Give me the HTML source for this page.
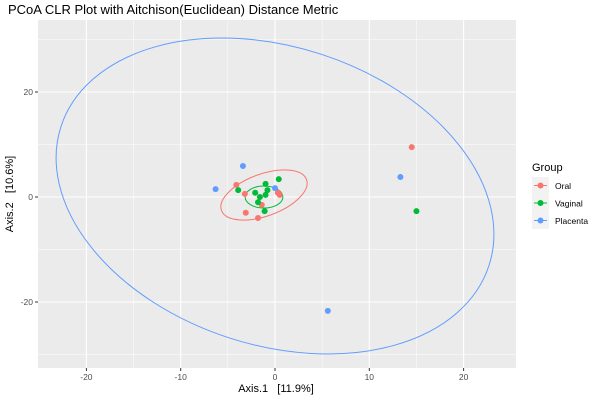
<!DOCTYPE html>
<html><head><meta charset="utf-8"><style>
body{margin:0;background:#fff;font-family:"Liberation Sans",sans-serif}
</style></head><body>
<svg id="chart" width="600" height="400" xmlns="http://www.w3.org/2000/svg">
<rect width="600" height="400" fill="#fff"/>
<text x="8" y="14" font-size="13" fill="#000">PCoA CLR Plot with Aitchison(Euclidean) Distance Metric</text>
<rect x="38" y="20" width="478" height="348" fill="#ebebeb"/>
<g id="grid"></g>
<g id="ell"></g>
<g id="pts"></g>
<g id="axes"></g>
<text x="276" y="392" font-size="11" text-anchor="middle">Axis.1&#160;&#160;&#160;[11.9%]</text>
<text transform="translate(13,194) rotate(-90)" font-size="11" text-anchor="middle">Axis.2&#160;&#160;&#160;[10.6%]</text>
<g>
<text x="532" y="171" font-size="11">Group</text>
<rect x="532" y="177" width="17" height="52" fill="#f2f2f2"/>
<g><line x1="534" x2="547" y1="185.5" y2="185.5" stroke="#F8766D"/><circle cx="540.5" cy="185.5" r="3" fill="#F8766D"/><text x="555" y="189" font-size="8.5">Oral</text></g>
<g><line x1="534" x2="547" y1="203" y2="203" stroke="#00BA38"/><circle cx="540.5" cy="203" r="3" fill="#00BA38"/><text x="555" y="206.5" font-size="8.5">Vaginal</text></g>
<g><line x1="534" x2="547" y1="220.5" y2="220.5" stroke="#619CFF"/><circle cx="540.5" cy="220.5" r="3" fill="#619CFF"/><text x="555" y="224" font-size="8.5">Placenta</text></g>
</g>
</svg>
<script>
const xTicks=[-20,-10,0,10,20];
const yTicks=[-20,0,20];
const groups=["Oral","Vaginal","Placenta"];
const colors=["#F8766D","#00BA38","#619CFF"];
const oralX=[-4.1,-3.2,-3.1,-1.8,-1.4,0.3,0.5,14.5];
const oralY=[2.3,0.6,-3.0,-4.0,-1.5,0.8,0.4,9.5];
const vagX=[-3.9,0.4,-1.0,-2.1,-1.6,-1.0,-0.8,-1.8,-1.1,15.0];
const vagY=[1.3,3.4,2.5,0.8,0,0.4,1.3,-1.0,-2.7,-2.7];
const plaX=[-3.4,-6.3,0,13.3,5.6];
const plaY=[5.9,1.5,1.7,3.8,-21.7];
const sx=v=>275+v*9.43, sy=v=>197-v*5.25;
const NS="http://www.w3.org/2000/svg";
function mk(t,a,p){const e=document.createElementNS(NS,t);for(const k in a)e.setAttribute(k,a[k]);p.appendChild(e);return e;}
const grid=document.getElementById('grid'),axes=document.getElementById('axes');
for(let i=0;i<xTicks.length-1;i++){const m=sx((xTicks[i]+xTicks[i+1])/2);mk('line',{x1:m,x2:m,y1:20,y2:368,stroke:'#fff','stroke-width':0.5},grid);}
for(let i=0;i<yTicks.length-1;i++){const m=sy((yTicks[i]+yTicks[i+1])/2);mk('line',{x1:38,x2:516,y1:m,y2:m,stroke:'#fff','stroke-width':0.5},grid);}
[sy(-30),sy(30)].forEach(m=>mk('line',{x1:38,x2:516,y1:m,y2:m,stroke:'#fff','stroke-width':0.5},grid));
xTicks.forEach(v=>{const x=sx(v);
const g=mk('line',{x1:x,x2:x,y1:20,y2:368,stroke:'#fff','stroke-width':1.1},grid);

mk('line',{x1:x,x2:x,y1:368,y2:371,stroke:'#333'},axes);
const t=mk('text',{x:x,y:380,'font-size':8.5,'text-anchor':'middle',fill:'#4d4d4d'},axes);t.textContent=v;
});
yTicks.forEach(v=>{const y=sy(v);
const g=mk('line',{x1:38,x2:516,y1:y,y2:y,stroke:'#fff','stroke-width':1.1},grid);

mk('line',{x1:35,x2:38,y1:y,y2:y,stroke:'#333'},axes);
const t=mk('text',{x:33,y:y+3,'font-size':8.5,'text-anchor':'end',fill:'#4d4d4d'},axes);t.textContent=v;
});
const ell=document.getElementById('ell');
const ellipses=[[23.86,28.4,275,196,18,2],[4.8,4.0,264,195,-20,0],[2.0,2.1,264,197,0,1]];
ellipses.forEach(e=>{const el=mk('ellipse',{cx:e[2],cy:e[3],rx:e[0]*9.43,ry:e[1]*5.25,transform:`rotate(${e[4]} ${e[2]} ${e[3]})`,fill:'none',stroke:colors[e[5]],'stroke-width':1},ell);
});
const pts=document.getElementById('pts');
[[oralX,oralY],[vagX,vagY],[plaX,plaY]].forEach((s,gi)=>{s[0].forEach((x,i)=>{
const c=mk('circle',{cx:sx(x),cy:sy(s[1][i]),r:3,fill:colors[gi]},pts);
});});
</script>
</body></html>
